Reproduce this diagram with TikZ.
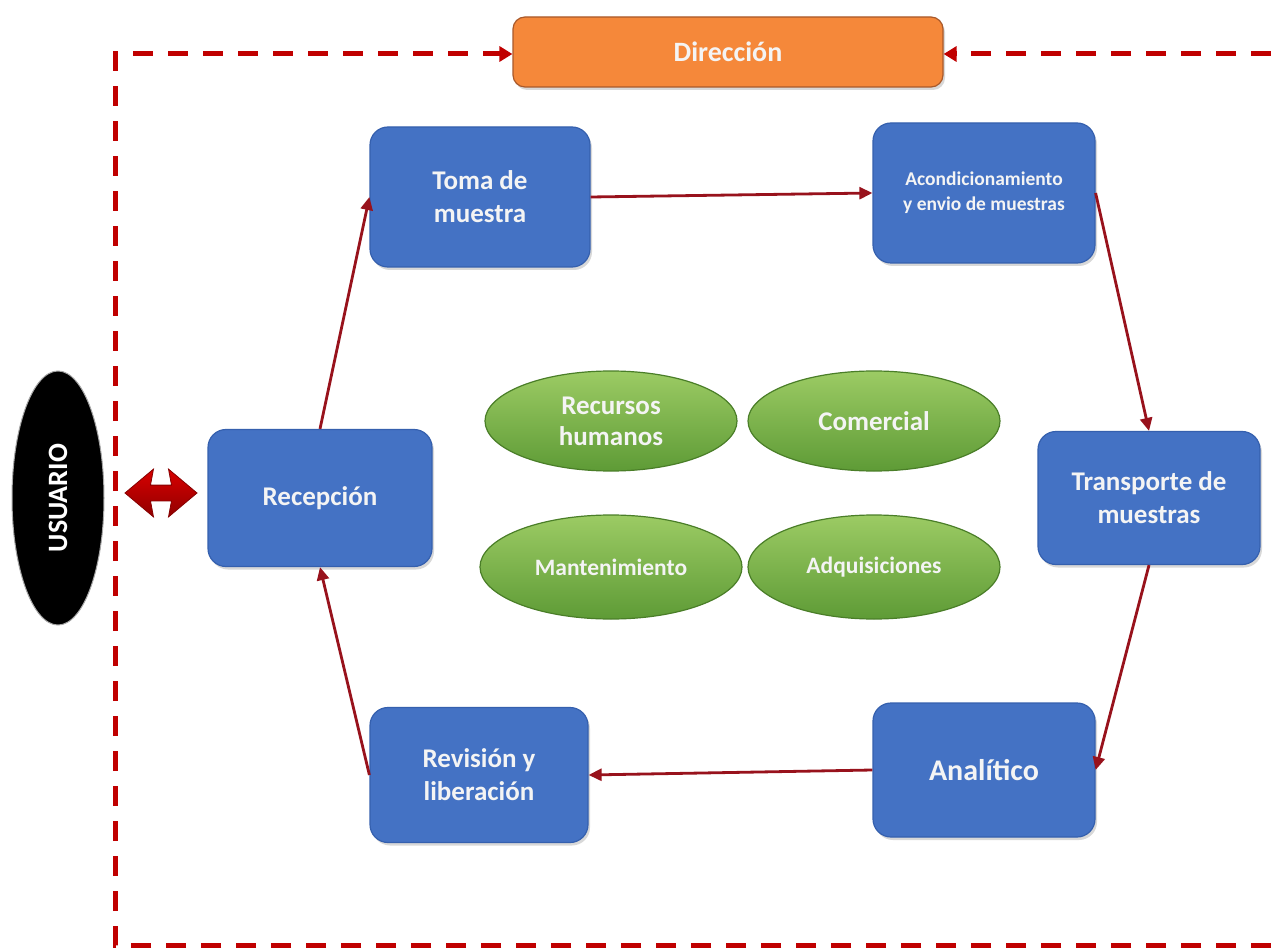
\documentclass[tikz,border=0pt]{standalone}
\usepackage{fontspec}
\setmainfont{Carlito}
\usetikzlibrary{shapes.geometric,shapes.arrows,arrows.meta,shadows}
\definecolor{boxblue}{HTML}{4472C4}
\definecolor{boxedge}{HTML}{3560AE}
\definecolor{diror}{HTML}{F5883A}
\definecolor{diredge}{HTML}{A9592A}
\definecolor{gtop}{HTML}{9CCB64}
\definecolor{gbot}{HTML}{5E9B36}
\definecolor{gedge}{HTML}{4A7E28}
\definecolor{flowred}{HTML}{98121C}
\definecolor{framered}{HTML}{C00000}
\definecolor{txt}{HTML}{F4F4F4}
\begin{document}
\begin{tikzpicture}[x=1pt,y=-1pt,
  proc/.style={rectangle, rounded corners=18pt, fill=boxblue, draw=boxedge, line width=1.2pt,
    text=txt, font=\bfseries\fontsize{27}{33}\selectfont, align=center, inner sep=0pt,
    drop shadow={opacity=0.3, shadow xshift=2pt, shadow yshift=-3pt}},
  support/.style={ellipse, top color=gtop, bottom color=gbot, draw=gedge, line width=1.2pt,
    text=txt, font=\bfseries\fontsize{27}{31}\selectfont, align=center, inner sep=0pt,
    minimum width=252pt, minimum height=100pt},
  flow/.style={draw=flowred, line width=2.8pt, -{Triangle[length=13pt,width=12pt]}},
  frame/.style={draw=framered, line width=5pt, dash pattern=on 20pt off 15pt},
  frametip/.style={-{Triangle[length=13pt,width=15pt]}}
]
\useasboundingbox (0,0) rectangle (1271,949);
\fill[white] (0,0) rectangle (1271,949);

% frame coordinates
\coordinate (fbl) at (115,945);
\coordinate (ftl) at (115,54);
\coordinate (fbr) at (1271,945);
\coordinate (ftr) at (1271,54);

% Direccion
\node[rectangle, rounded corners=12pt, fill=diror, draw=diredge, line width=1.2pt,
  text=txt, font=\bfseries\fontsize{28}{32}\selectfont, minimum width=430pt, minimum height=70pt,
  drop shadow={opacity=0.3, shadow xshift=2pt, shadow yshift=-3pt}] (dir) at (728,52) {Dirección};

% frame
\draw[frame, frametip] (fbr) -- (fbl) -- (ftl) -- (dir.west |- ftl);
\draw[frame, frametip] (ftr) -- (dir.east |- ftr);

% process boxes
\node[proc, minimum width=220pt, minimum height=140pt] (toma) at (480,197) {Toma de\\muestra};
\node[proc, minimum width=222pt, minimum height=140pt, font=\bfseries\fontsize{19.5}{25}\selectfont] (acond) at (984,193) {Acondicionamiento\\y envio de muestras};
\node[proc, minimum width=224pt, minimum height=137pt] (recep) at (320,498) {Recepción};
\node[proc, minimum width=222pt, minimum height=133pt] (transp) at (1149,498) {Transporte de\\muestras};
\node[proc, minimum width=222pt, minimum height=134pt, font=\bfseries\fontsize{30}{34}\selectfont] (anal) at (984,770) {Analítico};
\node[proc, minimum width=218pt, minimum height=135pt] (rev) at (479,775) {Revisión y\\liberación};

% support ellipses
\node[support] (rh) at (611,421) {Recursos\\humanos};
\node[support] (com) at (874,421) {Comercial};
\node[support, font=\bfseries\fontsize{23.5}{28}\selectfont, minimum width=262pt, minimum height=104pt] (mant) at (611,567) {Mantenimiento};
\node[support, font=\bfseries\fontsize{23.5}{28}\selectfont, minimum width=252pt, minimum height=104pt] (adq) at (874,567) {Adquisiciones};

% usuario
\node[ellipse, fill=black, draw=gray!70, line width=1pt, minimum width=92pt, minimum height=254pt,
  text=white, font=\bfseries\fontsize{28}{32}\selectfont, inner sep=0pt] (usr) at (58,498) {\rotatebox{90}{USUARIO}};

% double arrow
\node[double arrow, top color=red!85!black, bottom color=framered!75!black, draw=framered!70!black, line width=0.8pt,
  minimum height=72pt, double arrow head extend=16pt, double arrow tip angle=80,
  double arrow head indent=3pt, inner sep=0pt] (dbl) at (161,493) {\rule{0pt}{15pt}};

% flow connectors
\draw[flow] (recep.north) -- (toma.west);
\draw[flow] (toma.east) -- (acond.west);
\draw[flow] (acond.east) -- (transp.north);
\draw[flow] (transp.south) -- (anal.east);
\draw[flow] (anal.west) -- (rev.east);
\draw[flow] (rev.west) -- (recep.south);
\end{tikzpicture}
\end{document}
